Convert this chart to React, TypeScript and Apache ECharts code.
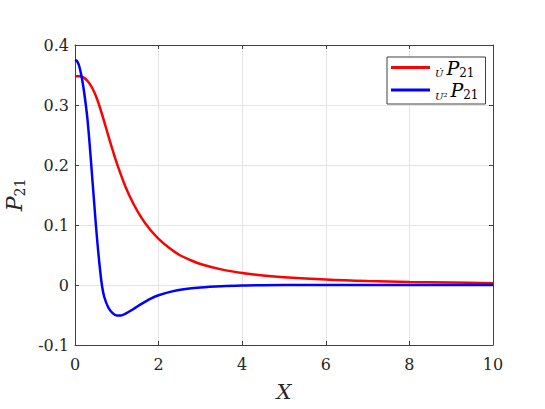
import React, { useEffect, useRef } from "react";
import * as echarts from "echarts";

const xRed = [0, 0.1, 0.2, 0.3, 0.4, 0.5, 0.6, 0.7, 0.8, 0.9, 1.0, 1.2, 1.4, 1.6, 1.8, 2.0, 2.25, 2.5, 2.75, 3.0, 3.5, 4.0, 4.5, 5.0, 6.0, 7.0, 8.0, 9.0, 10];
const yRed = [0.348, 0.348, 0.346, 0.340, 0.330, 0.315, 0.295, 0.272, 0.248, 0.225, 0.203, 0.165, 0.135, 0.111, 0.092, 0.077, 0.062, 0.050, 0.042, 0.035, 0.026, 0.020, 0.016, 0.013, 0.009, 0.0065, 0.005, 0.004, 0.003];

const xBlue = [0, 0.05, 0.1, 0.15, 0.2, 0.25, 0.3, 0.35, 0.4, 0.45, 0.5, 0.55, 0.6, 0.65, 0.7, 0.8, 0.9, 1.0, 1.1, 1.2, 1.4, 1.6, 1.8, 2.0, 2.3, 2.6, 3.0, 3.5, 4.0, 5, 6, 8, 10];
const yBlue = [0.375, 0.373, 0.365, 0.350, 0.330, 0.305, 0.275, 0.235, 0.190, 0.145, 0.100, 0.060, 0.025, -0.003, -0.020, -0.038, -0.047, -0.051, -0.051, -0.048, -0.040, -0.031, -0.023, -0.017, -0.011, -0.007, -0.004, -0.002, -0.001, 0, 0, 0, 0];

const seriesNames = ["Udot", "U2"];

const FONT = "DejaVu Serif";
const AXC = "#404040";

export default function App() {
  const ref = useRef<HTMLDivElement>(null);
  useEffect(() => {
    if (!ref.current) return;
    const chart = echarts.init(ref.current, null, { renderer: "svg" });
    const richLegend = {
      s: { fontSize: 10, fontStyle: "italic", fontFamily: FONT, color: "#000", verticalAlign: "bottom" as const, lineHeight: 13, padding: [0, 3, 0, 0] },
      p: { fontSize: 19, fontStyle: "italic", fontFamily: FONT, color: "#000", lineHeight: 22 },
      b: { fontSize: 12, fontFamily: FONT, color: "#000", verticalAlign: "bottom" as const, lineHeight: 13 },
    };
    const mirrorX = {
      type: "value",
      position: "top",
      min: 0,
      max: 10,
      interval: 2,
      axisLine: { show: true, onZero: false, lineStyle: { color: AXC, width: 1 } },
      axisTick: { show: true, inside: true, length: 4, lineStyle: { color: AXC } },
      axisLabel: { show: false },
      splitLine: { show: false },
    };
    const mirrorY = {
      type: "value",
      position: "right",
      min: -0.1,
      max: 0.4,
      interval: 0.1,
      axisLine: { show: true, onZero: false, lineStyle: { color: AXC, width: 1 } },
      axisTick: { show: true, inside: true, length: 4, lineStyle: { color: AXC } },
      axisLabel: { show: false },
      splitLine: { show: false },
    };
    chart.setOption({
      animation: false,
      backgroundColor: "#fff",
      textStyle: { fontFamily: FONT },
      grid: { left: 75, right: 52, top: 45, bottom: 64, outerBoundsMode: "none", containLabel: false, show: false },
      legend: {
        orient: "vertical",
        left: 387,
        top: 57,
        itemWidth: 39,
        itemHeight: 3,
        itemGap: 2,
        padding: [1, 7, 3, 4],
        borderColor: AXC,
        borderWidth: 1,
        backgroundColor: "#fff",
        icon: "rect",
        data: seriesNames,
        formatter: (n: string) => (n === "Udot" ? "{s|U\u0307}{p|P}{b|21}" : "{s|U²}{p|P}{b|21}"),
        textStyle: { fontFamily: FONT, rich: richLegend },
      },
      xAxis: [
        {
          type: "value",
          position: "bottom",
          min: 0,
          max: 10,
          interval: 2,
          name: "X",
          nameLocation: "middle",
          nameGap: 36,
          nameTextStyle: { fontFamily: FONT, fontStyle: "italic", fontSize: 21, color: "#262626" },
          axisLine: { show: true, onZero: false, lineStyle: { color: AXC, width: 1 } },
          axisTick: { show: true, inside: true, length: 4, lineStyle: { color: AXC } },
          axisLabel: { fontFamily: FONT, fontSize: 16, color: "#262626", margin: 11 },
          splitLine: { show: true, lineStyle: { color: "#e3e3e3", width: 1 } },
        },
        mirrorX,
      ],
      yAxis: [
        {
          type: "value",
          position: "left",
          min: -0.1,
          max: 0.4,
          interval: 0.1,
          name: "{p|P}{b|21}",
          nameLocation: "middle",
          nameRotate: 90,
          nameGap: 47,
          nameTextStyle: {
            fontFamily: FONT,
            rich: {
              p: { fontFamily: FONT, fontStyle: "italic", fontSize: 22, color: "#262626", lineHeight: 26 },
              b: { fontFamily: FONT, fontSize: 14, color: "#262626", verticalAlign: "bottom", lineHeight: 15 },
            },
          },
          axisLine: { show: true, onZero: false, lineStyle: { color: AXC, width: 1 } },
          axisTick: { show: true, inside: true, length: 4, lineStyle: { color: AXC } },
          axisLabel: {
            fontFamily: FONT,
            fontSize: 16,
            color: "#262626",
            margin: 6,
            formatter: (v: number) => (Math.abs(v) < 1e-9 ? "0" : v.toFixed(1)),
          },
          splitLine: { show: true, lineStyle: { color: "#e3e3e3", width: 1 } },
        },
        mirrorY,
      ],
      series: [
        {
          name: "Udot",
          type: "line",
          xAxisIndex: 0,
          yAxisIndex: 0,
          data: xRed.map((x, i) => [x, yRed[i]]),
          showSymbol: false,
          smooth: 0.3,
          lineStyle: { color: "#ff0000", width: 2.5 },
          itemStyle: { color: "#ff0000" },
        },
        {
          name: "U2",
          type: "line",
          xAxisIndex: 0,
          yAxisIndex: 0,
          data: xBlue.map((x, i) => [x, yBlue[i]]),
          showSymbol: false,
          smooth: 0.3,
          lineStyle: { color: "#0000ff", width: 2.5 },
          itemStyle: { color: "#0000ff" },
        },
      ],
    });
    return () => chart.dispose();
  }, []);
  return <div ref={ref} style={{ width: 545, height: 409, position: "absolute", left: 0, top: 0 }} />;
}
